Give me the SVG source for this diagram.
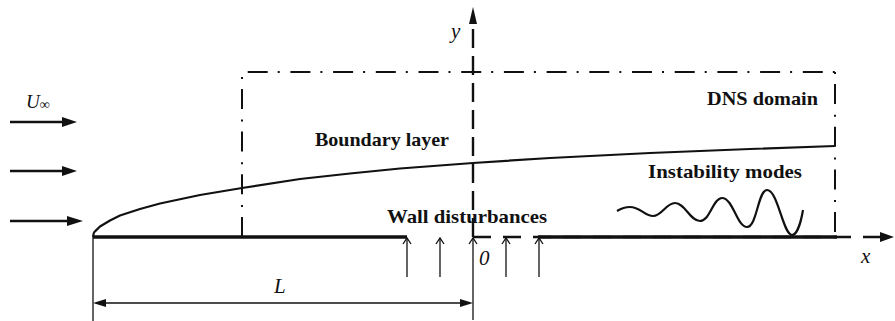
<svg xmlns="http://www.w3.org/2000/svg" width="895" height="321" viewBox="0 0 895 321">
<style>
.bold{font-family:"Liberation Serif","Times New Roman",serif;font-weight:bold;font-size:19px;fill:#111}
.ital{font-family:"Liberation Serif","Times New Roman",serif;font-style:italic;font-size:21px;fill:#111}
.dd{fill:none;stroke:#111;stroke-width:2;stroke-dasharray:20 10 2 10.7}
.thin{fill:none;stroke:#111;stroke-width:1.3}
.head{fill:#111;stroke:none}
</style>
<rect width="895" height="321" fill="#fff"/>
<g id="dns-domain">
<line class="dd" x1="242" y1="237" x2="242" y2="72"/>
<line class="dd" x1="242" y1="72" x2="835" y2="72" stroke-dashoffset="37"/>
<line class="dd" x1="835" y1="72" x2="835" y2="237" style="stroke-dasharray:2 10 20 10.7"/>
<text class="bold" x="818" y="105" text-anchor="end" textLength="111" lengthAdjust="spacingAndGlyphs">DNS domain</text>
</g>
<g id="plate">
<line x1="93" y1="237" x2="407" y2="237" stroke="#111" stroke-width="3.4"/>
<line x1="538" y1="237" x2="837" y2="237" stroke="#111" stroke-width="3.4"/>
</g>
<g id="boundary-layer">
<path d="M93,237 C93.5,233 94,232 95,231.4 L100,226.5 L110,220.5 L120,215.5 L140,209 L160,203.5 L200,195 L242,188 L300,179 L350,173.5 L400,168.5 L473,163 L550,158 L650,153 L750,149 L835,146" fill="none" stroke="#111" stroke-width="2.2" stroke-linejoin="round"/>
<text class="bold" x="315" y="146" textLength="134" lengthAdjust="spacingAndGlyphs">Boundary layer</text>
</g>
<g id="instability-modes">
<path d="M617,211 C622,208 626,207 630,207 C640,207 645,216 653,216 C662,216 666,203 675,203 C685,203 690,221 700,221 C710,221 713,198 722,198 C733,198 737,227 747,227 C757,227 758,190 767,190 C778,190 783,235 792,235 C797,235 801,222 803,210" fill="none" stroke="#111" stroke-width="2.2"/>
<text class="bold" x="648" y="178" textLength="154" lengthAdjust="spacingAndGlyphs">Instability modes</text>
</g>
<g id="wall-disturbances">
<text class="bold" x="387" y="223" textLength="160" lengthAdjust="spacingAndGlyphs">Wall disturbances</text>
</g>
<g id="connectors">
<line x1="10" y1="122" x2="63" y2="122" stroke="#111" stroke-width="2.5"/>
<polygon class="head" points="62,117 77,122 62,127"/>
<line x1="10" y1="171" x2="63" y2="171" stroke="#111" stroke-width="2.5"/>
<polygon class="head" points="62,166 77,171 62,176"/>
<line x1="10" y1="221" x2="68" y2="221" stroke="#111" stroke-width="2.5"/>
<polygon class="head" points="67,216 83,221 67,226"/>
<line x1="473" y1="237" x2="882" y2="237" stroke="#111" stroke-width="2.4" stroke-dasharray="18 12"/>
<polygon class="head" points="880,232 894,237 880,242"/>
<line x1="473" y1="237" x2="473" y2="23" stroke="#111" stroke-width="2.4" stroke-dasharray="19 8"/>
<polygon class="head" points="469,24 473,7 477,24"/>
<g class="thin">
<line x1="407" y1="277" x2="407" y2="238"/><polyline points="403,244 407,238 411,244"/>
<line x1="440" y1="277" x2="440" y2="238"/><polyline points="436,244 440,238 444,244"/>
<line x1="473" y1="320" x2="473" y2="238"/><polyline points="469,244 473,238 477,244"/>
<line x1="506" y1="277" x2="506" y2="238"/><polyline points="502,244 506,238 510,244"/>
<line x1="539" y1="277" x2="539" y2="238"/><polyline points="535,244 539,238 543,244"/>
</g>
<line class="thin" x1="93" y1="237" x2="93" y2="321"/>
<line class="thin" x1="104" y1="303" x2="462" y2="303"/>
<polygon class="head" points="93,303 106,299 106,307"/>
<polygon class="head" points="473,303 460,299 460,307"/>
</g>
<g id="labels">
<text class="ital" x="26" y="108" style="font-size:19px">U<tspan style="font-size:14px" dy="1">∞</tspan></text>
<text class="ital" x="451" y="38">y</text>
<text class="ital" x="479" y="265">0</text>
<text class="ital" x="274" y="293">L</text>
<text class="ital" x="861" y="263">x</text>
</g>
</svg>
